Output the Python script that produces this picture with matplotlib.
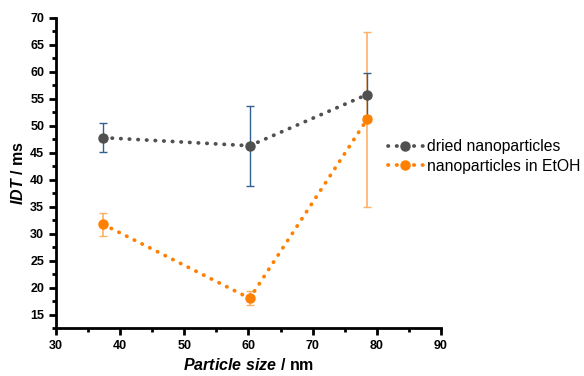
import matplotlib
matplotlib.use("Agg")
import matplotlib.pyplot as plt
from matplotlib.ticker import MultipleLocator

plt.rcParams['font.family'] = ['Liberation Sans', 'DejaVu Sans']
plt.rcParams['mathtext.fontset'] = 'custom'
plt.rcParams['mathtext.it'] = 'Liberation Sans:italic:bold'
plt.rcParams['mathtext.rm'] = 'Liberation Sans:bold'
plt.rcParams['mathtext.bf'] = 'Liberation Sans:bold'

sizes = [37.4, 60.2, 78.5]
dried = [47.8, 46.3, 55.8]
dried_err = [2.65, 7.4, 4.0]
etoh = [31.7, 18.0, 51.2]
etoh_err = [2.2, 1.3, 16.2]

fig = plt.figure(figsize=(5.84, 3.76), dpi=100)
ax = fig.add_axes([0.0959, 0.1277, 0.6591, 0.8245])

ax.errorbar(sizes, etoh, yerr=etoh_err, fmt='none', ecolor='#ffb066', elinewidth=1.2, capsize=3, capthick=1, zorder=2)
ax.errorbar(sizes, dried, yerr=dried_err, fmt='none', ecolor='#34608f', elinewidth=1.0, capsize=3, capthick=1, zorder=2)
ax.plot(sizes, dried, linestyle=(0, (0.1, 2.2)), dash_capstyle='round', lw=2.7, color='#505050',
        marker='o', ms=6.5, label='dried nanoparticles', zorder=3)
ax.plot(sizes, etoh, linestyle=(0, (0.1, 2.2)), dash_capstyle='round', lw=2.7, color='#ff8000',
        marker='o', ms=6.5, label='nanoparticles in EtOH', zorder=3)

ax.set_xlim(30, 90)
ax.set_ylim(12.5, 70)
ax.xaxis.set_major_locator(MultipleLocator(10))
ax.xaxis.set_minor_locator(MultipleLocator(5))
ax.yaxis.set_minor_locator(MultipleLocator(2.5))
ax.set_yticks(range(15, 71, 5))
for s in ['top', 'right']:
    ax.spines[s].set_visible(False)
for s in ['left', 'bottom']:
    ax.spines[s].set_linewidth(2)
ax.tick_params(which='major', direction='out', length=5, width=2, labelsize=9)
ax.tick_params(which='minor', direction='out', length=3, width=2)
for lab in ax.get_xticklabels() + ax.get_yticklabels():
    lab.set_fontweight('bold')

ax.set_xlabel(r'$\it{Particle\ size}$' + ' / nm', fontsize=11.5, fontweight='bold', labelpad=4)
ax.set_ylabel(r'$\it{IDT}$' + ' / ms', fontsize=11.5, fontweight='bold', labelpad=3)

leg = ax.legend(loc='center left', bbox_to_anchor=(0.863, 0.553), frameon=False, fontsize=11.3,
                handlelength=2.2, handletextpad=0.25, labelspacing=0.3, borderaxespad=0, borderpad=0)

fig.savefig('out.png', dpi=100)
